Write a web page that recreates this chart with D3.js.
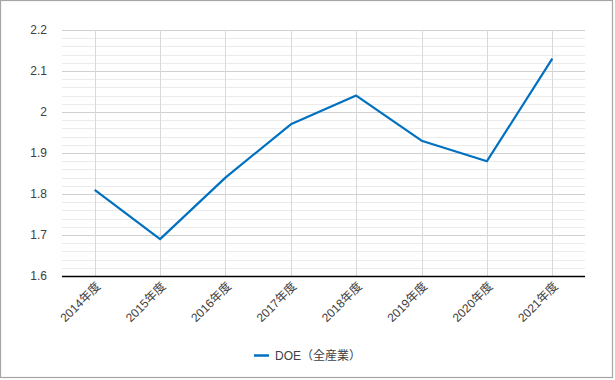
<!DOCTYPE html>
<html><head><meta charset="utf-8">
<script src="https://cdnjs.cloudflare.com/ajax/libs/d3/7.8.5/d3.min.js"></script>
<style>body{margin:0;background:#fff}svg{display:block;font-family:"Liberation Sans",Arial,sans-serif}</style>
</head><body><svg id="c" width="615" height="380"></svg>
<script>
const categories = ["2014年度","2015年度","2016年度","2017年度","2018年度","2019年度","2020年度","2021年度"];
const values = [1.81, 1.69, 1.84, 1.97, 2.04, 1.93, 1.88, 2.13];
const yTicks = [1.6, 1.7, 1.8, 1.9, 2, 2.1, 2.2];
const seriesName = "DOE（全産業）";

const svg = d3.select("#c");
const L = 62, R = 585, T = 30, B = 276;
svg.append("rect").attr("x",0.5).attr("y",0.5).attr("width",612).attr("height",377)
  .attr("fill","#fff").attr("stroke","#a6a6a6").attr("stroke-width",1.2);

const x = d3.scalePoint().domain(categories).range([L,R]).padding(0.5);
const y = d3.scaleLinear().domain([1.6,2.2]).range([B,T]);

// minor gridlines
const minor = d3.range(1.6, 2.2001, 0.02);
svg.append("g").selectAll("line").data(minor).join("line")
  .attr("x1",L).attr("x2",R).attr("y1",d=>Math.round(y(d))+0.5).attr("y2",d=>Math.round(y(d))+0.5)
  .attr("stroke","#ebebeb").attr("stroke-width",1);
// major gridlines
svg.append("g").selectAll("line").data(yTicks.slice(1)).join("line")
  .attr("x1",L).attr("x2",R).attr("y1",d=>Math.round(y(d))+0.5).attr("y2",d=>Math.round(y(d))+0.5)
  .attr("stroke","#d0d0d0").attr("stroke-width",1);
// vertical gridlines
svg.append("g").selectAll("line").data(categories).join("line")
  .attr("x1",d=>Math.round(x(d))+0.5).attr("x2",d=>Math.round(x(d))+0.5).attr("y1",T).attr("y2",B)
  .attr("stroke","#d9d9d9").attr("stroke-width",1);

// y axis labels
const yAxis = d3.axisLeft(y).tickValues(yTicks).tickSize(0).tickPadding(15).tickFormat(d3.format("~g"));
const gy = svg.append("g").attr("transform",`translate(${L},0)`).call(yAxis);
gy.select(".domain").remove();
gy.selectAll("text").attr("font-size",12).attr("fill","#404040").attr("font-family","Liberation Sans, Arial, sans-serif");

// x axis
const xAxis = d3.axisBottom(x).tickSize(0).tickPadding(0);
const gx = svg.append("g").attr("transform",`translate(0,${B})`).call(xAxis);
gx.select(".domain").attr("stroke","#000").attr("stroke-width",1.5).attr("d",`M${L},0.5H${R}`);
gx.selectAll("text").attr("font-size",12).attr("fill","#404040")
  .attr("font-family","Liberation Sans, Noto Sans CJK JP, sans-serif")
  .attr("text-anchor","end").attr("dy",null).attr("y",0)
  .attr("transform","translate(6,11) rotate(-45)");

// line
const line = d3.line().x((d,i)=>x(categories[i])).y(d=>y(d));
svg.append("path").datum(values).attr("d",line).attr("fill","none")
  .attr("stroke","#0070c0").attr("stroke-width",2.2).attr("stroke-linejoin","round");

// legend
const lg = svg.append("g");
lg.append("line").attr("x1",254).attr("x2",269).attr("y1",355.5).attr("y2",355.5)
  .attr("stroke","#0070c0").attr("stroke-width",2.5);
lg.append("text").attr("x",275).attr("y",360).attr("font-size",12).attr("fill","#404040")
  .attr("font-family","Liberation Sans, Noto Sans CJK JP, sans-serif").text(seriesName);
</script></body></html>
